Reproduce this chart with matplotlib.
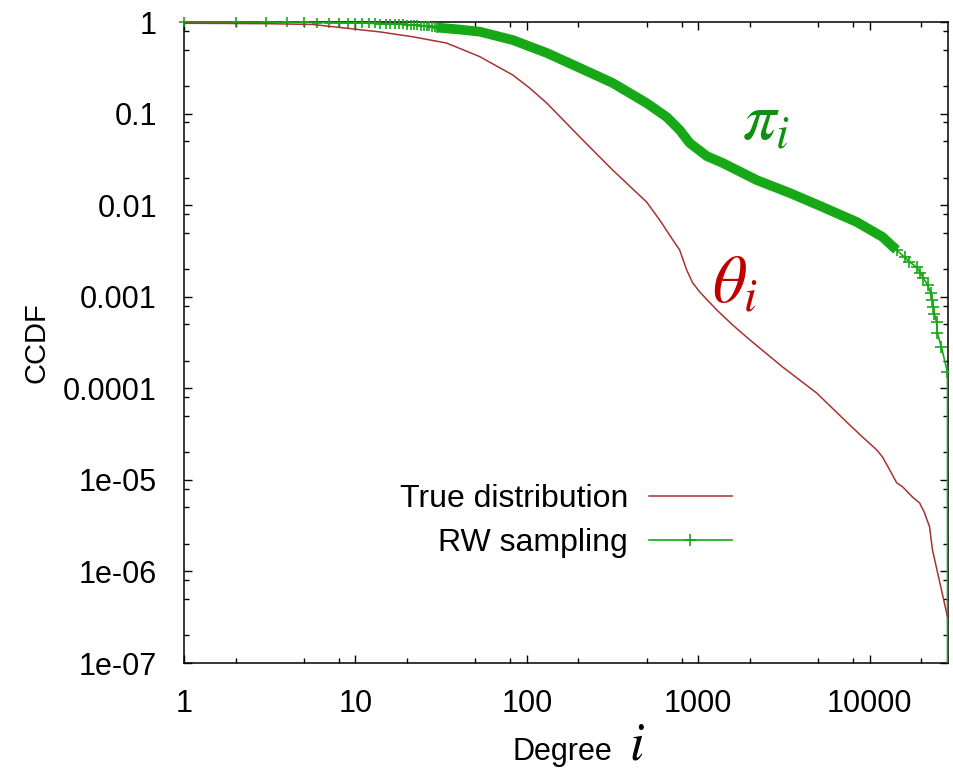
import numpy as np
import matplotlib
matplotlib.use("Agg")
import matplotlib.pyplot as plt
from matplotlib.ticker import LogLocator, FixedFormatter, FixedLocator, NullFormatter

plt.rcParams['font.family'] = ['Liberation Sans', 'DejaVu Sans']
plt.rcParams['mathtext.fontset'] = 'stix'

# True distribution (theta_i)
true_deg = [1, 3, 5.66, 9.7, 13.9, 21.6, 34, 53, 82.8, 104, 131, 204, 317, 501, 596,
            710, 780, 857, 929, 1020, 1283, 1589, 1995, 3110, 4910, 7640, 9100,
            11000, 11900, 13100, 14400, 15600, 17800, 19600, 20900, 22400, 23300, 28500]
true_ccdf = [0.97, 0.96, 0.94, 0.84, 0.78, 0.69, 0.59, 0.42, 0.264, 0.19, 0.130,
             0.0555, 0.0242, 0.0108, 0.0069, 0.0042, 0.00324, 0.00196, 0.00142,
             0.00113, 0.000718, 0.000492, 0.00034, 0.000171, 8.9e-5, 4.0e-5, 2.94e-5,
             2.13e-5, 1.78e-5, 1.29e-5, 9.3e-6, 8.4e-6, 6.5e-6, 5.6e-6, 4.4e-6,
             3.07e-6, 1.72e-6, 3.2e-7]

# RW sampling (pi_i): individual markers at low degree
rw_low_deg = list(range(1, 31))
rw_low_ccdf = [1.0, 0.998, 0.995, 0.993, 0.99, 0.988, 0.985, 0.983, 0.98, 0.978,
               0.975, 0.97, 0.965, 0.96, 0.955, 0.95, 0.947, 0.944, 0.941, 0.938,
               0.93, 0.925, 0.92, 0.915, 0.91, 0.905, 0.90, 0.89, 0.88, 0.87]
# dense part (markers merge into a band)
rw_band_deg = [30, 40, 53.2, 82.8, 131, 204, 317, 501, 655, 780, 892, 1121, 1390,
               2195, 3420, 5320, 8400, 11900, 14370]
rw_band_ccdf = [0.87, 0.83, 0.784, 0.636, 0.459, 0.315, 0.216, 0.130, 0.0918, 0.0662,
                0.0478, 0.0344, 0.0289, 0.0188, 0.0136, 0.00955, 0.00656, 0.0045,
                0.00324]
# sparse tail
rw_tail_deg = [14370, 16000, 17100, 18800, 19800, 20600, 21800, 22700, 23300, 23600,
               23900, 24600, 24900, 26300, 28500]
rw_tail_ccdf = [0.00324, 0.0027, 0.0024, 0.00211, 0.00182, 0.0016, 0.00135, 0.0011,
                0.00092, 0.00077, 0.00065, 0.00053, 0.0004, 0.00028, 0.00015]

x_ticks = [1, 10, 100, 1000, 10000]
x_labels = ['1', '10', '100', '1000', '10000']
y_ticks = [1, 0.1, 0.01, 0.001, 0.0001, 1e-5, 1e-6, 1e-7]
y_labels = ['1', '0.1', '0.01', '0.001', '0.0001', '1e-05', '1e-06', '1e-07']

red = '#a83232'
green = '#16a816'

fig = plt.figure(figsize=(9.54, 7.73), dpi=100)
ax = fig.add_axes([0.1929, 0.1423, 0.8008, 0.8292])
ax.set_xscale('log')
ax.set_yscale('log')
ax.set_xlim(1, 28700)
ax.set_ylim(1e-7, 1)

# RW sampling
ax.plot(rw_band_deg, rw_band_ccdf, color=green, lw=7, solid_capstyle='butt',
        solid_joinstyle='round', zorder=3)
ax.plot(rw_low_deg, rw_low_ccdf, color=green, lw=1.2, marker='+', ms=7, mew=1.2,
        clip_on=False, zorder=3)
ax.plot(rw_tail_deg + [28500], rw_tail_ccdf + [1e-9], color=green, lw=1.2,
        marker='+', ms=8, mew=1.2, zorder=3)
# True distribution
ax.plot(true_deg, true_ccdf, color=red, lw=1.1, zorder=4)

# legend (gnuplot style: text left, sample right)
h1, = ax.plot([], [], color=red, lw=1.1)
h2, = ax.plot([], [], color=green, lw=1.2, marker='+', ms=9, mew=1.2)
ax.legend([h1, h2], ['True distribution', 'RW sampling'], markerfirst=False,
          frameon=False, fontsize=23, loc='center right',
          bbox_to_anchor=(0.717, 0.2215), borderpad=0, borderaxespad=0,
          handlelength=2.6, handletextpad=0.65, labelspacing=0.42, numpoints=1)

# ticks
ax.xaxis.set_major_locator(FixedLocator(x_ticks))
ax.xaxis.set_major_formatter(FixedFormatter(x_labels))
ax.xaxis.set_minor_locator(LogLocator(base=10, subs=(2, 5, 8)))
ax.xaxis.set_minor_formatter(NullFormatter())
ax.yaxis.set_major_locator(FixedLocator(y_ticks))
ax.yaxis.set_major_formatter(FixedFormatter(y_labels))
ax.yaxis.set_minor_locator(LogLocator(base=10, subs=(2, 5, 8), numticks=20))
ax.yaxis.set_minor_formatter(NullFormatter())
ax.tick_params(which='both', direction='in', top=True, right=True, labelsize=22,
               width=1)
ax.tick_params(which='major', length=6)
ax.tick_params(which='minor', length=3.5)
ax.tick_params(axis='x', which='major', pad=19)
ax.tick_params(axis='y', which='major', pad=19.5)
for s in ax.spines.values():
    s.set_linewidth(1.1)

ax.set_ylabel('CCDF', fontsize=21, labelpad=9)

# x label: sans "Degree" + large serif italic i
fig.text(0.590, 0.017, 'Degree', fontsize=22, ha='center', va='baseline')
fig.text(0.668, 0.017, r'$i$', fontsize=38, ha='center', va='baseline')

# curve annotations
ax.text(0.730, 0.816, r'$\pi_i$', color='#109010', fontsize=48,
        transform=ax.transAxes, va='baseline')
ax.text(0.691, 0.562, r'$\theta_i$', color='#c00000', fontsize=48,
        transform=ax.transAxes, va='baseline')

fig.savefig('out.png', dpi=100)
